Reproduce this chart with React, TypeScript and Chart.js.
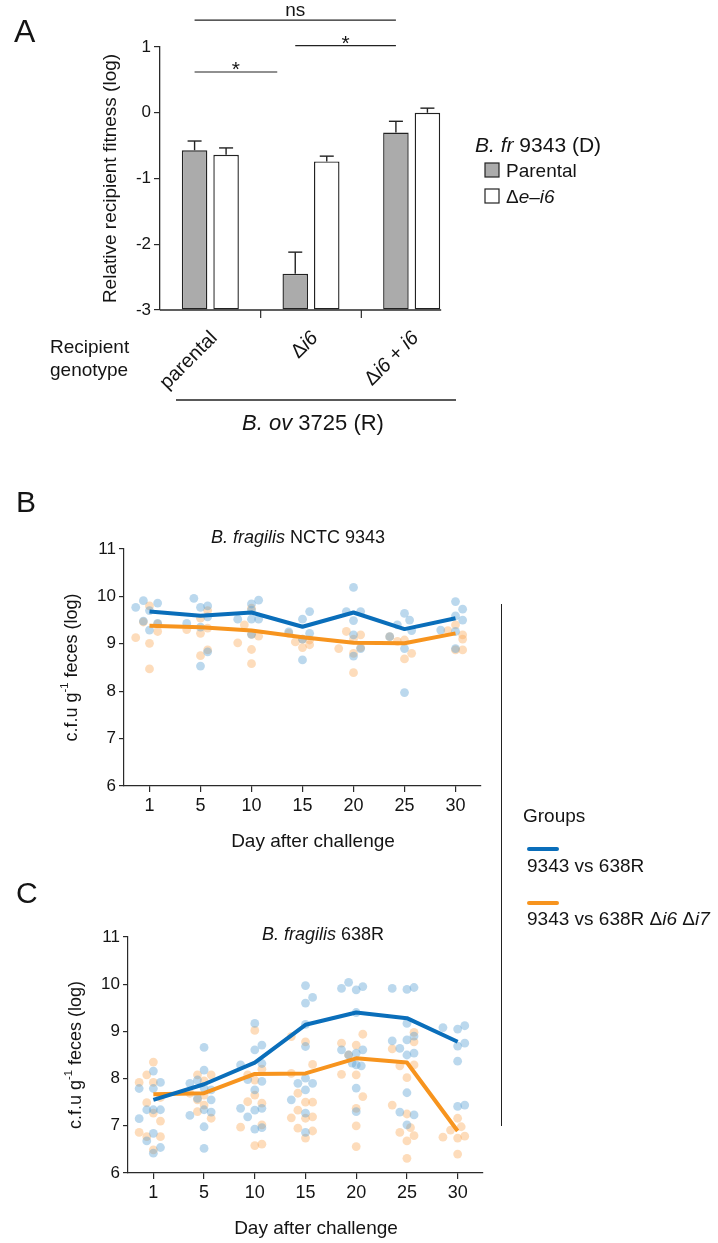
import React, { useEffect, useRef } from "react";
import { Chart, registerables } from "chart.js";

Chart.register(...registerables);

const FONT = "'Liberation Sans', Arial, Helvetica, sans-serif";
const AXIS = "#2a2a2a";
const INK = "#141414";
const BLUE_LINE = "rgb(10,110,186)";
const ORANGE_LINE = "rgb(247,148,30)";
const BLUE_PT = "rgba(92,162,212,0.42)";
const ORANGE_PT = "rgba(250,172,92,0.42)";

// ---------------- Panel A data ----------------
const genotypes = ["parental", "Δi6", "Δi6 + i6"];
const donorGroups = ["Parental", "Δe–i6"];
const fitnessParental = [-0.57, -2.45, -0.3];
const fitnessParentalErr = [0.14, 0.33, 0.17];
const fitnessDelta = [-0.64, -0.74, 0.0];
const fitnessDeltaErr = [0.105, 0.08, 0.07];
const fitnessMin = -3;
const fitnessMax = 1;
const sigLabels = ["ns", "*", "*"];
const sigLevels = [1.41, 0.62, 1.02];
const sigFrom = [0, 0, 1];
const sigTo = [2, 1, 2];

// ---------------- Panels B & C data ----------------
const days = ["1", "5", "10", "15", "20", "25", "30"];
const groupNames = ["9343 vs 638R", "9343 vs 638R Δi6 Δi7"];

// panel B: B. fragilis NCTC 9343 (lines = group summary)
const b638R = [9.68, 9.59, 9.66, 9.36, 9.66, 9.31, 9.54];
const bMutant = [9.38, 9.35, 9.28, 9.14, 9.02, 9.01, 9.22];
// individual mice per day: [jitter (category units), log cfu]
const b638RMice = [
  [[-0.27, 9.77], [-0.12, 9.91], [0.16, 9.86], [0, 9.7], [-0.12, 9.48], [0, 9.29], [0.16, 9.43]],
  [[-0.13, 9.96], [0, 9.77], [0.14, 9.8], [0.14, 9.57], [-0.27, 9.43], [0, 9.35], [0.14, 8.83], [0, 8.53]],
  [[0, 9.84], [0.14, 9.92], [0, 9.71], [0, 9.52], [0.14, 9.52], [-0.27, 9.52], [0, 9.2]],
  [[0, 9.52], [0.14, 9.68], [-0.27, 9.25], [0, 9.1], [0.14, 9.22], [0, 8.66]],
  [[0, 10.19], [-0.14, 9.68], [0.14, 9.68], [0, 9.49], [0, 9.19], [0.14, 8.9], [0, 8.74]],
  [[0, 9.64], [0.1, 9.5], [-0.14, 9.4], [-0.29, 9.15], [0, 8.9], [0, 7.97], [0.14, 9.28]],
  [[0, 9.89], [0.14, 9.73], [0, 9.59], [0.14, 9.5], [-0.29, 9.29], [0, 9.26], [0, 8.9]],
];
const bMutantMice = [
  [[0, 9.8], [-0.27, 9.13], [0, 9.01], [0.16, 9.26], [0, 8.47], [-0.12, 9.46], [0.16, 9.42]],
  [[0, 9.54], [0.14, 9.7], [-0.27, 9.3], [0, 9.22], [0.14, 9.33], [0, 8.75], [0.14, 8.87]],
  [[-0.27, 9.02], [-0.14, 9.4], [0, 8.88], [0, 8.58], [0.14, 9.16], [0, 9.2], [0, 9.75]],
  [[-0.27, 9.22], [-0.14, 9.04], [0, 8.92], [0.14, 9.08], [0, 9.1], [0.14, 8.98]],
  [[-0.14, 9.26], [0.14, 9.19], [-0.29, 8.9], [0, 8.8], [0, 8.39], [0, 9.1], [0.14, 8.92]],
  [[0, 9.08], [0.14, 8.8], [0, 8.68], [-0.29, 9.15], [-0.14, 9.05]],
  [[-0.15, 9.28], [0.14, 9.19], [0, 8.87], [0.14, 8.87], [0, 9.4], [0.14, 9.1]],
];

// panel C: B. fragilis 638R
const c638R = [7.55, 7.88, 8.34, 9.14, 9.4, 9.28, 8.78];
const cMutant = [7.67, 7.69, 8.1, 8.11, 8.43, 8.34, 6.89];
const c638RMice = [
  [[-0.28, 7.79], [0, 8.16], [0, 7.79], [0.14, 7.92], [-0.13, 7.34], [0, 7.34], [0.14, 7.34], [-0.28, 7.15], [0, 6.84], [-0.13, 6.68], [0.14, 6.54], [0, 6.42]],
  [[0, 8.66], [0, 8.18], [-0.28, 7.9], [-0.13, 7.97], [0, 7.8], [0.14, 7.76], [-0.13, 7.58], [0.14, 7.55], [0, 7.34], [-0.28, 7.22], [0.14, 7.29], [0, 6.98], [0, 6.52]],
  [[0, 9.17], [0, 8.61], [0.14, 8.71], [0.14, 8.32], [-0.28, 8.29], [-0.14, 7.98], [0.14, 7.94], [0, 7.76], [-0.28, 7.37], [-0.14, 7.19], [0, 7.33], [0.14, 7.37], [0, 6.93], [0.14, 6.96]],
  [[0, 9.97], [0.14, 9.72], [0, 9.6], [0, 9.15], [0, 8.68], [-0.15, 7.9], [0, 8.01], [0.14, 7.9], [0, 7.76], [-0.28, 7.55], [0, 7.27], [0, 6.86]],
  [[-0.29, 9.91], [-0.15, 10.04], [0, 9.88], [0.13, 9.95], [0, 9.4], [-0.29, 8.61], [-0.15, 8.5], [0, 8.54], [0.13, 8.61], [-0.08, 8.33], [0, 8.29], [0.1, 8.27], [0, 7.8], [0, 7.3]],
  [[-0.29, 9.91], [0, 9.89], [0.14, 9.93], [0, 9.17], [-0.29, 8.8], [-0.14, 8.64], [0, 8.82], [0, 8.5], [0.14, 8.9], [0.14, 8.54], [0, 7.7], [-0.14, 7.29], [0.14, 7.23], [0, 7.02]],
  [[-0.29, 9.08], [0, 9.05], [0.14, 9.12], [0, 8.69], [0.14, 8.75], [0, 8.37], [0, 7.41], [0.14, 7.44]],
];
const cMutantMice = [
  [[-0.28, 7.92], [-0.13, 8.08], [0, 8.35], [0, 7.92], [-0.13, 7.49], [0.14, 7.1], [-0.28, 6.86], [-0.13, 6.77], [0, 6.49], [0.14, 6.77], [0, 7.27], [0.14, 7.6]],
  [[-0.13, 8.08], [0.14, 8.08], [-0.28, 7.69], [0, 7.65], [-0.13, 7.3], [0, 7.44], [0.14, 7.16], [0, 7.95], [-0.13, 7.55]],
  [[0, 9.02], [-0.14, 8.08], [-0.14, 7.51], [0, 7.65], [0.14, 7.48], [-0.28, 6.97], [0.14, 7.02], [0, 6.58], [0.14, 6.61], [0, 7.97], [0.14, 8.2]],
  [[-0.28, 8.89], [0, 8.78], [0.14, 8.3], [-0.28, 8.11], [-0.15, 7.69], [0, 7.5], [0.14, 7.5], [-0.15, 7.33], [-0.28, 7.17], [0, 7.16], [0.14, 7.19], [-0.15, 6.95], [0.14, 6.89], [0, 6.74]],
  [[-0.29, 8.75], [0, 8.71], [0.13, 8.94], [-0.29, 8.09], [0, 8.08], [0.13, 7.62], [0, 7.37], [0, 7.0], [0, 6.56], [-0.15, 8.5]],
  [[-0.29, 8.63], [0.14, 8.98], [0.14, 8.78], [-0.14, 8.27], [0.14, 8.29], [0, 8.02], [-0.29, 7.44], [-0.14, 6.86], [0, 6.68], [0.14, 6.79], [0.07, 6.96], [0, 6.31], [0, 7.25]],
  [[0, 7.16], [-0.14, 6.91], [0.07, 6.98], [-0.29, 6.76], [0, 6.74], [0.14, 6.78], [0, 6.4]],
];

// ---------------- text helpers ----------------
type Seg = { t: string; i?: boolean; sup?: boolean };

function fontStr(size: number, italic?: boolean) {
  return `${italic ? "italic " : ""}${size}px ${FONT}`;
}

function italicSegs(label: string): Seg[] {
  return label
    .split(/(e–i\d|i\d)/)
    .filter((s) => s.length > 0)
    .map((s) => ({ t: s, i: /^(e–i\d|i\d)$/.test(s) }));
}

function drawRich(ctx: CanvasRenderingContext2D, segs: Seg[], x: number, y: number, size: number, align: "left" | "center" | "right") {
  const sizes = segs.map((s) => (s.sup ? size * 0.62 : size));
  const widths = segs.map((s, k) => {
    ctx.font = fontStr(sizes[k], s.i);
    return ctx.measureText(s.t).width;
  });
  const total = widths.reduce((a, b) => a + b, 0);
  let cx = align === "left" ? x : align === "center" ? x - total / 2 : x - total;
  ctx.textAlign = "left";
  segs.forEach((s, k) => {
    ctx.font = fontStr(sizes[k], s.i);
    ctx.fillText(s.t, cx, s.sup ? y - size * 0.4 : y);
    cx += widths[k];
  });
}

function seg(ctx: CanvasRenderingContext2D, x0: number, y0: number, x1: number, y1: number, w = 1.2, color = AXIS) {
  ctx.strokeStyle = color;
  ctx.lineWidth = w;
  ctx.beginPath();
  ctx.moveTo(x0, y0);
  ctx.lineTo(x1, y1);
  ctx.stroke();
}

// ---------------- panel A plugin ----------------
const panelAPlugin = {
  id: "panelA",
  afterDraw(chart: any) {
    const ctx: CanvasRenderingContext2D = chart.ctx;
    const xs = chart.scales.x;
    const ys = chart.scales.y;
    const ca = chart.chartArea;
    const m0 = chart.getDatasetMeta(0);
    const m1 = chart.getDatasetMeta(1);
    ctx.save();
    ctx.fillStyle = INK;
    ctx.textBaseline = "alphabetic";

    // error bars
    const sets: [any, number[], number[]][] = [
      [m0, fitnessParental, fitnessParentalErr],
      [m1, fitnessDelta, fitnessDeltaErr],
    ];
    sets.forEach(([m, mean, err]) => {
      m.data.forEach((el: any, i: number) => {
        const top = ys.getPixelForValue(mean[i]);
        const e = ys.getPixelForValue(mean[i] + err[i]);
        seg(ctx, el.x, top, el.x, e, 1.4, "#222");
        seg(ctx, el.x - 7, e, el.x + 7, e, 1.4, "#222");
      });
    });

    // x axis baseline up to the last bar
    const last = m1.data[m1.data.length - 1];
    seg(ctx, ca.left, ca.bottom, last.x + last.width / 2 + 1, ca.bottom, 1.3);
    // separators between genotypes
    for (let i = 0; i < genotypes.length - 1; i++) {
      const sx = (xs.getPixelForValue(i) + xs.getPixelForValue(i + 1)) / 2;
      seg(ctx, sx, ca.bottom, sx, ca.bottom + 8, 1.2);
    }

    // significance brackets
    sigLabels.forEach((lab, k) => {
      const x0 = m0.data[sigFrom[k]].x;
      let x1 = m0.data[sigTo[k]].x;
      if (k === 1) x1 -= 18;
      const ly = ys.getPixelForValue(sigLevels[k]);
      seg(ctx, x0, ly, x1, ly, 1.2, "#222");
      ctx.font = fontStr(lab === "ns" ? 19 : 21);
      ctx.textAlign = "center";
      ctx.fillText(lab, (x0 + x1) / 2, lab === "ns" ? ly - 4 : ly + 4);
    });

    // rotated genotype labels
    genotypes.forEach((g, i) => {
      ctx.save();
      ctx.translate(xs.getPixelForValue(i) + 4, ca.bottom + 25);
      ctx.rotate(-Math.PI / 4);
      ctx.textBaseline = "middle";
      drawRich(ctx, italicSegs(g), 0, 0, 20, "right");
      ctx.restore();
    });

    // y axis title
    ctx.save();
    ctx.translate(111, (ca.top + ca.bottom) / 2);
    ctx.rotate(-Math.PI / 2);
    ctx.textBaseline = "middle";
    drawRich(ctx, [{ t: "Relative recipient fitness (log)" }], 0, 0, 19, "center");
    ctx.restore();

    // recipient genotype caption
    drawRich(ctx, [{ t: "Recipient" }], 50, 353, 19, "left");
    drawRich(ctx, [{ t: "genotype" }], 50, 376, 19, "left");

    // recipient strain line + label
    seg(ctx, 176, 400, 456, 400, 1.3, "#222");
    drawRich(ctx, [{ t: "B. ov", i: true }, { t: " 3725 (R)" }], 313, 430, 22, "center");

    // legend
    drawRich(ctx, [{ t: "B. fr", i: true }, { t: " 9343 (D)" }], 475, 152, 21, "left");
    ctx.fillStyle = "#ababab";
    ctx.fillRect(485, 163, 14, 14);
    ctx.strokeStyle = "#222";
    ctx.lineWidth = 1.2;
    ctx.strokeRect(485, 163, 14, 14);
    ctx.fillStyle = "#fff";
    ctx.fillRect(485, 189, 14, 14);
    ctx.strokeRect(485, 189, 14, 14);
    ctx.fillStyle = INK;
    drawRich(ctx, italicSegs(donorGroups[0]), 506, 177, 19, "left");
    drawRich(ctx, italicSegs(donorGroups[1]), 506, 203, 19, "left");

    // panel letter
    ctx.font = fontStr(32);
    ctx.textAlign = "left";
    ctx.fillText("A", 14, 42);
    ctx.restore();
  },
};

// ---------------- panels B/C plugin ----------------
function timePanelPlugin(o: {
  id: string;
  offsetY: number;
  letter: string;
  letterY: number;
  title: Seg[];
  titleX: number;
  titleY: number;
  yTitleX: number;
  xTitleX: number;
  xTitleY: number;
}) {
  return {
    id: o.id,
    afterDraw(chart: any) {
      const ctx: CanvasRenderingContext2D = chart.ctx;
      const ca = chart.chartArea;
      ctx.save();
      ctx.fillStyle = INK;
      ctx.textBaseline = "alphabetic";
      ctx.font = fontStr(30);
      ctx.textAlign = "left";
      ctx.fillText(o.letter, 16, o.letterY - o.offsetY);
      drawRich(ctx, o.title, o.titleX, o.titleY - o.offsetY, 18, "center");
      drawRich(ctx, [{ t: "Day after challenge" }], o.xTitleX, o.xTitleY - o.offsetY, 19, "center");
      ctx.save();
      ctx.translate(o.yTitleX, (ca.top + ca.bottom) / 2);
      ctx.rotate(-Math.PI / 2);
      ctx.textBaseline = "middle";
      drawRich(ctx, [{ t: "c.f.u g" }, { t: "-1", sup: true }, { t: " feces (log)" }], 0, 0, 18, "center");
      ctx.restore();
      ctx.restore();
    },
  };
}

function miceToPoints(mice: number[][][]) {
  const out: { x: number; y: number }[] = [];
  mice.forEach((day, i) => day.forEach(([dx, v]) => out.push({ x: i + dx, y: v })));
  return out;
}

function buildTimeChart(
  canvas: HTMLCanvasElement,
  meanA: number[],
  meanB: number[],
  miceA: number[][][],
  miceB: number[][][],
  lay: { top: number; xAxisH: number; yAxisW: number; right: number },
  plugin: any
) {
  const tickFont = { family: FONT, size: 17 };
  return new Chart(canvas, {
    type: "scatter",
    data: {
      datasets: [
        {
          label: groupNames[0],
          data: meanA.map((v, i) => ({ x: i, y: v })),
          showLine: true,
          borderColor: BLUE_LINE,
          borderWidth: 4,
          pointRadius: 0,
          tension: 0,
          borderJoinStyle: "round",
        },
        {
          label: groupNames[1],
          data: meanB.map((v, i) => ({ x: i, y: v })),
          showLine: true,
          borderColor: ORANGE_LINE,
          borderWidth: 4,
          pointRadius: 0,
          tension: 0,
          borderJoinStyle: "round",
        },
        {
          label: groupNames[0] + " mice",
          data: miceToPoints(miceA),
          pointRadius: 4.4,
          pointBackgroundColor: BLUE_PT,
          pointBorderWidth: 0,
          borderColor: "transparent",
        },
        {
          label: groupNames[1] + " mice",
          data: miceToPoints(miceB),
          pointRadius: 4.4,
          pointBackgroundColor: ORANGE_PT,
          pointBorderWidth: 0,
          borderColor: "transparent",
        },
      ],
    } as any,
    options: {
      animation: false,
      responsive: false,
      events: [],
      layout: { padding: { left: 0, top: lay.top, right: lay.right, bottom: 0 } },
      plugins: { legend: { display: false }, tooltip: { enabled: false } },
      scales: {
        x: {
          type: "linear",
          min: -0.5,
          max: days.length - 0.5,
          afterBuildTicks: (s: any) => {
            s.ticks = days.map((_, i) => ({ value: i }));
          },
          afterFit: (s: any) => {
            s.height = lay.xAxisH;
          },
          ticks: {
            callback: (v: any) => days[Math.round(v)] ?? "",
            font: { family: FONT, size: 18 },
            color: INK,
            padding: 3,
            maxRotation: 0,
            autoSkip: false,
          },
          grid: { drawOnChartArea: false, tickLength: 6, color: AXIS, lineWidth: 1.2 },
          border: { color: AXIS, width: 1.2 },
        },
        y: {
          min: 6,
          max: 11,
          afterFit: (s: any) => {
            s.width = lay.yAxisW;
          },
          ticks: { stepSize: 1, font: tickFont, color: INK, padding: 3 },
          grid: { drawOnChartArea: false, tickLength: 5, color: AXIS, lineWidth: 1.2 },
          border: { color: AXIS, width: 1.2 },
        },
      },
    } as any,
    plugins: [plugin],
  });
}

export default function App() {
  const refA = useRef<HTMLCanvasElement>(null);
  const refB = useRef<HTMLCanvasElement>(null);
  const refC = useRef<HTMLCanvasElement>(null);

  useEffect(() => {
    const charts: Chart[] = [];
    if (refA.current) {
      charts.push(
        new Chart(refA.current, {
          type: "bar",
          data: {
            labels: genotypes,
            datasets: [
              {
                label: donorGroups[0],
                data: fitnessParental,
                base: fitnessMin,
                backgroundColor: "#ababab",
                borderColor: "#222",
                borderWidth: 1.4,
                borderSkipped: false,
                categoryPercentage: 0.626,
                barPercentage: 0.81,
              },
              {
                label: donorGroups[1],
                data: fitnessDelta,
                base: fitnessMin,
                backgroundColor: "#ffffff",
                borderColor: "#222",
                borderWidth: 1.4,
                borderSkipped: false,
                categoryPercentage: 0.626,
                barPercentage: 0.81,
              },
            ],
          } as any,
          options: {
            animation: false,
            responsive: false,
            events: [],
            layout: { padding: { left: 0, top: 47, right: 718 - 462, bottom: 0 } },
            plugins: { legend: { display: false }, tooltip: { enabled: false } },
            scales: {
              x: {
                afterFit: (s: any) => {
                  s.height = 130;
                },
                ticks: { display: false },
                grid: { display: false },
                border: { display: false },
              },
              y: {
                min: fitnessMin,
                max: fitnessMax,
                afterFit: (s: any) => {
                  s.width = 160;
                },
                ticks: { stepSize: 1, font: { family: FONT, size: 17 }, color: INK, padding: 3 },
                grid: { drawOnChartArea: false, tickLength: 6, color: AXIS, lineWidth: 1.2 },
                border: { color: AXIS, width: 1.3 },
              },
            },
          } as any,
          plugins: [panelAPlugin],
        })
      );
    }
    if (refB.current) {
      charts.push(
        buildTimeChart(
          refB.current,
          b638R,
          bMutant,
          b638RMice,
          bMutantMice,
          { top: 79, xAxisH: 74, yAxisW: 124, right: 718 - 481 },
          timePanelPlugin({
            id: "panelB",
            offsetY: 470,
            letter: "B",
            letterY: 512,
            title: [{ t: "B. fragilis", i: true }, { t: " NCTC 9343" }],
            titleX: 298,
            titleY: 543,
            yTitleX: 72,
            xTitleX: 313,
            xTitleY: 847,
          })
        )
      );
    }
    if (refC.current) {
      charts.push(
        buildTimeChart(
          refC.current,
          c638R,
          cMutant,
          c638RMice,
          cMutantMice,
          { top: 77, xAxisH: 70, yAxisW: 128, right: 718 - 483 },
          timePanelPlugin({
            id: "panelC",
            offsetY: 860,
            letter: "C",
            letterY: 903,
            title: [{ t: "B. fragilis", i: true }, { t: " 638R" }],
            titleX: 323,
            titleY: 940,
            yTitleX: 76,
            xTitleX: 316,
            xTitleY: 1234,
          })
        )
      );
    }
    return () => charts.forEach((c) => c.destroy());
  }, []);

  const legendText: React.CSSProperties = {
    position: "absolute",
    fontFamily: FONT,
    fontSize: 19,
    lineHeight: "19px",
    color: INK,
    whiteSpace: "nowrap",
  };
  const asc = 16.1;

  return (
    <div style={{ position: "absolute", left: 0, top: 0, width: 718, height: 1243, background: "#fff", overflow: "hidden" }}>
      <canvas ref={refA} width={718} height={440} style={{ position: "absolute", left: 0, top: 0, width: 718, height: 440 }} />
      <canvas ref={refB} width={718} height={390} style={{ position: "absolute", left: 0, top: 470, width: 718, height: 390 }} />
      <canvas ref={refC} width={718} height={383} style={{ position: "absolute", left: 0, top: 860, width: 718, height: 383 }} />
      <div style={{ position: "absolute", left: 501, top: 604, width: 1.4, height: 522, background: "#222" }} />
      <div style={{ ...legendText, left: 523, top: 822 - asc }}>Groups</div>
      <div style={{ position: "absolute", left: 527, top: 847, width: 32, height: 4, borderRadius: 2, background: BLUE_LINE }} />
      <div style={{ ...legendText, left: 527, top: 872 - asc }}>{groupNames[0]}</div>
      <div style={{ position: "absolute", left: 527, top: 901, width: 32, height: 4, borderRadius: 2, background: ORANGE_LINE }} />
      <div style={{ ...legendText, left: 527, top: 925 - asc }}>
        {groupNames[1].split(/(i\d)/).map((p, k) => (/^i\d$/.test(p) ? <i key={k}>{p}</i> : <span key={k}>{p}</span>))}
      </div>
    </div>
  );
}
